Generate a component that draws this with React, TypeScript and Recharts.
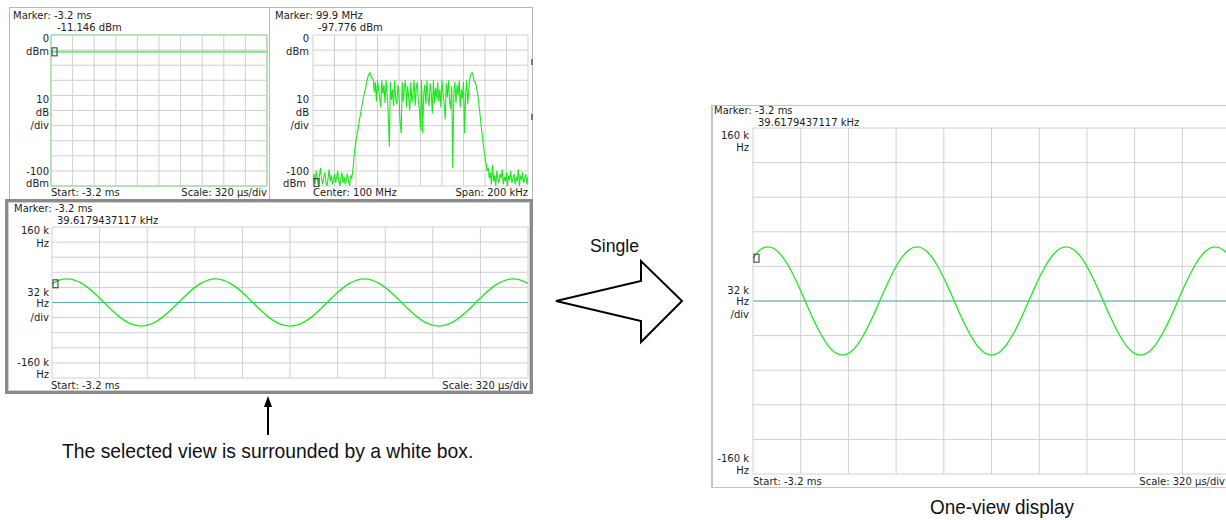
import React from "react";
import {
  LineChart,
  Line,
  XAxis,
  YAxis,
  ReferenceLine,
  ReferenceDot,
  ReferenceArea,
} from "recharts";

// time axis: 10 div x 320 us, start -3.2 ms
const timeTicks = [-3.2, -2.88, -2.56, -2.24, -1.92, -1.6, -1.28, -0.96, -0.64, -0.32, 0];
const dbmTicks = [0, -10, -20, -30, -40, -50, -60, -70, -80, -90, -100];
const khzTicks = [160, 128, 96, 64, 32, 0, -32, -64, -96, -128, -160];
const spanTicks = [-100, -80, -60, -40, -20, 0, 20, 40, 60, 80, 100];

// power vs time (top left)
const powerTimeMs = [-3.2, 0];
const powerDbm = [-11.146, -11.146];

// spectrum, 1 kHz per point around 100 MHz (top right)
const spectrumStartKhz = -100;
const spectrumDbm = [
  -97, -92, -99, -90, -95, -100, -93, -88, -96, -99,
  -94, -91, -98, -100, -95, -89, -97, -93, -99, -96,
  -92, -98, -94, -90, -97, -100, -95, -91, -98, -94,
  -99, -96, -92, -97, -100, -93, -95, -90,
  -82, -75, -70, -66, -62, -57, -53, -49, -45, -41,
  -38, -35, -31, -28, -26, -25, -27, -29,
  -29, -38, -31, -44, -30, -36, -41, -48, -30, -39,
  -33, -45, -30, -40, -52, -74, -31, -43, -36, -47,
  -30, -42, -46, -33, -39, -58, -65, -31, -44, -35,
  -30, -48, -34, -41, -50, -31, -45, -38, -30, -47,
  -36, -31, -44, -49, -63, -30, -65, -39, -33, -46,
  -30, -41, -47, -32, -38, -52, -30, -45, -35, -42,
  -31, -44, -36, -48, -30, -39, -46, -56, -32, -41,
  -30, -43, -49, -34, -88, -38, -31, -45, -33, -40,
  -30, -48, -36, -42, -31, -65, -39, -30, -46, -35,
  -28, -26, -25, -27, -31,
  -31, -34, -38, -44, -50, -57, -64, -70, -76, -81, -85, -90,
  -88, -95, -91, -99, -86, -97, -93, -100, -90, -96,
  -98, -92, -95, -89, -99, -94, -97, -91, -100, -93,
  -96, -90, -98, -95, -92, -99, -94, -97, -89, -100,
  -93, -96, -91, -98, -95, -92, -99, -94,
];

// frequency vs time, 50 us per point (bottom left and one-view)
const fmStartMs = -3.2;
const fmStepMs = 0.05;
const fmKhz = [
  39.6, 47.6,
  50, 47.6, 40.5, 29.4, 15.5, 0, -15.5, -29.4, -40.5, -47.6,
  -50, -47.6, -40.5, -29.4, -15.5, 0, 15.5, 29.4, 40.5, 47.6,
  50, 47.6, 40.5, 29.4, 15.5, 0, -15.5, -29.4, -40.5, -47.6,
  -50, -47.6, -40.5, -29.4, -15.5, 0, 15.5, 29.4, 40.5, 47.6,
  50, 47.6, 40.5, 29.4, 15.5, 0, -15.5, -29.4, -40.5, -47.6,
  -50, -47.6, -40.5, -29.4, -15.5, 0, 15.5, 29.4, 40.5, 47.6,
  50, 47.6, 40.5,
];

const powerData = powerTimeMs.map((t, i) => ({ t, v: powerDbm[i] }));
const spectrumData = spectrumDbm.map((v, i) => ({ t: spectrumStartKhz + i, v }));
const fmData = fmKhz.map((v, i) => ({ t: fmStartMs + i * fmStepMs, v }));

const GREEN = "#1fe81f";
const GRID = "#d0d0d0";
const TXT = "#1c1c1c";
const W = 1226;

const MarkerBox = (p: any) => (
  <rect x={p.cx + 1} y={p.cy - 4} width={5} height={8} fill="none" stroke="#333" strokeWidth={1} />
);

function T({ x, y, right, children }: any) {
  const style: any = {
    position: "absolute",
    top: y - 7,
    fontSize: 10,
    lineHeight: "14px",
    whiteSpace: "nowrap",
    color: TXT,
    fontFamily: "'DejaVu Sans', sans-serif",
  };
  if (right) style.right = W - x;
  else style.left = x;
  return <div style={style}>{children}</div>;
}

// narrow Helvetica-like caption text
function Caption({ x, y, size, scale, children }: any) {
  return (
    <div
      style={{
        position: "absolute",
        left: x,
        top: y,
        fontSize: size,
        lineHeight: `${size + 3}px`,
        fontFamily: "'Liberation Sans', Arial, sans-serif",
        color: "#111",
        whiteSpace: "nowrap",
        transform: `scaleX(${scale})`,
        transformOrigin: "left top",
      }}
    >
      {children}
    </div>
  );
}

function Plot({ left, top, width, height, data, xDomain, xTicks, yDomain, yTicks, children, stroke = GREEN, sw = 1.3, curve = "linear" }: any) {
  return (
    <div style={{ position: "absolute", left: left - 1, top: top - 1 }}>
      <LineChart width={width + 2} height={height + 2} data={data} margin={{ top: 1, right: 1, bottom: 1, left: 1 }}>
        <XAxis dataKey="t" type="number" domain={xDomain} ticks={xTicks} tick={false} tickLine={false} axisLine={false} height={0} allowDataOverflow />
        <YAxis type="number" domain={yDomain} ticks={yTicks} tick={false} tickLine={false} axisLine={false} width={0} allowDataOverflow />
        {xTicks.map((t: number) => (
          <ReferenceLine key={"x" + t} x={t} stroke={GRID} strokeWidth={1} />
        ))}
        {yTicks.map((t: number) => (
          <ReferenceLine key={"y" + t} y={t} stroke={GRID} strokeWidth={1} />
        ))}
        {children}
        <Line dataKey="v" type={curve} stroke={stroke} strokeWidth={sw} dot={false} isAnimationActive={false} />
      </LineChart>
    </div>
  );
}

export default function App() {
  return (
    <div style={{ position: "absolute", left: 0, top: 0, width: W, height: 520, overflow: "hidden", background: "#fff" }}>
      {/* top panels */}
      <div style={{ position: "absolute", left: 9, top: 7, width: 259, height: 191, border: "1px solid #b8b8b8" }} />
      <div style={{ position: "absolute", left: 269, top: 7, width: 262, height: 191, border: "1px solid #b8b8b8" }} />
      <div style={{ position: "absolute", left: 531, top: 59, width: 2, height: 6, background: "#777" }} />
      <div style={{ position: "absolute", left: 531, top: 114, width: 2, height: 6, background: "#777" }} />

      <Plot left={51} top={35} width={216} height={151} data={powerData} xDomain={[-3.2, 0]} xTicks={timeTicks} yDomain={[-100, 0]} yTicks={dbmTicks} stroke="#7de87d" sw={2}>
        <ReferenceArea x1={-3.2} x2={0} y1={-100} y2={0} fill="none" stroke="#44e844" strokeWidth={1} ifOverflow="visible" />
        <ReferenceDot x={-3.2} y={-11.146} shape={MarkerBox} ifOverflow="visible" />
      </Plot>
      <T x={13} y={16}>Marker: -3.2 ms</T>
      <T x={57} y={28}>-11.146 dBm</T>
      <T x={49} y={39} right>0</T>
      <T x={49} y={52} right>dBm</T>
      <T x={49} y={100} right>10</T>
      <T x={49} y={113} right>dB</T>
      <T x={49} y={126} right>/div</T>
      <T x={49} y={172} right>-100</T>
      <T x={49} y={184} right>dBm</T>
      <T x={51} y={193}>Start: -3.2 ms</T>
      <T x={267} y={193} right>Scale: 320 µs/div</T>

      <Plot left={313} top={35} width={215} height={151} data={spectrumData} xDomain={[-100, 100]} xTicks={spanTicks} yDomain={[-100, 0]} yTicks={dbmTicks} sw={1.1}>
        <ReferenceDot x={-100} y={-97.776} shape={MarkerBox} ifOverflow="visible" />
      </Plot>
      <T x={275} y={16}>Marker: 99.9 MHz</T>
      <T x={318} y={28}>-97.776 dBm</T>
      <T x={309} y={39} right>0</T>
      <T x={309} y={52} right>dBm</T>
      <T x={309} y={100} right>10</T>
      <T x={309} y={113} right>dB</T>
      <T x={309} y={126} right>/div</T>
      <T x={309} y={172} right>-100</T>
      <T x={306} y={184} right>dBm</T>
      <T x={313} y={193}>Center: 100 MHz</T>
      <T x={528} y={193} right>Span: 200 kHz</T>

      {/* selected view */}
      <div style={{ position: "absolute", left: 5, top: 199, width: 522, height: 189, border: "3px solid #8a8a8a", background: "#fff", boxShadow: "inset 0 0 0 1px #cfcfcf" }} />
      <Plot left={52} top={227} width={476} height={151} data={fmData} xDomain={[-3.2, 0]} xTicks={timeTicks} yDomain={[-160, 160]} yTicks={khzTicks} curve="monotone">
        <ReferenceLine y={0} stroke="#5aaeae" strokeWidth={1} />
        <ReferenceDot x={-3.2} y={39.6} shape={MarkerBox} ifOverflow="visible" />
      </Plot>
      <T x={14} y={209}>Marker: -3.2 ms</T>
      <T x={57} y={221}>39.6179437117 kHz</T>
      <T x={49} y={231} right>160 k</T>
      <T x={49} y={244} right>Hz</T>
      <T x={49} y={293} right>32 k</T>
      <T x={49} y={304} right>Hz</T>
      <T x={49} y={318} right>/div</T>
      <T x={49} y={363} right>-160 k</T>
      <T x={49} y={375} right>Hz</T>
      <T x={51} y={386}>Start: -3.2 ms</T>
      <T x={528} y={386} right>Scale: 320 µs/div</T>

      {/* arrows */}
      <svg style={{ position: "absolute", left: 0, top: 0 }} width={W} height={520}>
        <polygon points="556,301 641,281 641,261 682,301 641,342 641,321" fill="#fff" stroke="#000" strokeWidth={2} strokeLinejoin="miter" />
        <line x1={268} y1={404} x2={268} y2={435} stroke="#000" strokeWidth={2} />
        <polygon points="268,396 264,407 272,407" fill="#000" />
      </svg>
      <Caption x={590} y={235} size={19} scale={0.93}>Single</Caption>
      <Caption x={62} y={439} size={21} scale={0.92}>The selected view is surrounded by a white box.</Caption>

      {/* one-view display */}
      <div style={{ position: "absolute", left: 711, top: 105, width: 600, height: 381, border: "1px solid #c4c4c4", borderLeft: "2px solid #c4c4c4" }} />
      <Plot left={753} top={128} width={477} height={346} data={fmData} xDomain={[-3.2, 0]} xTicks={timeTicks} yDomain={[-160, 160]} yTicks={khzTicks} curve="monotone">
        <ReferenceLine y={0} stroke="#5aaeae" strokeWidth={1} />
        <ReferenceDot x={-3.2} y={39.6} shape={MarkerBox} ifOverflow="visible" />
      </Plot>
      <T x={714} y={111}>Marker: -3.2 ms</T>
      <T x={758} y={123}>39.6179437117 kHz</T>
      <T x={749} y={136} right>160 k</T>
      <T x={749} y={148} right>Hz</T>
      <T x={749} y={291} right>32 k</T>
      <T x={749} y={302} right>Hz</T>
      <T x={749} y={315} right>/div</T>
      <T x={749} y={459} right>-160 k</T>
      <T x={749} y={471} right>Hz</T>
      <T x={753} y={482}>Start: -3.2 ms</T>
      <T x={1225} y={482} right>Scale: 320 µs/div</T>
      <Caption x={930} y={495} size={21} scale={0.9}>One-view display</Caption>
    </div>
  );
}
